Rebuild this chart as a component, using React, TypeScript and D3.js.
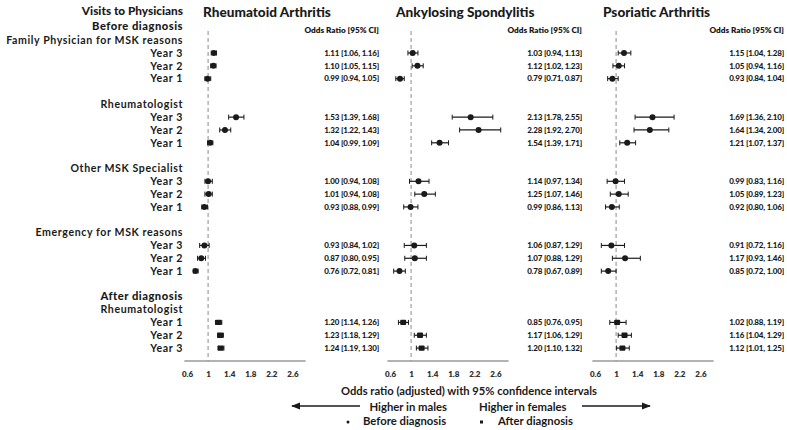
import React, { useEffect, useRef } from 'react';
import * as d3 from 'd3';

// rows: Family Physician Y3,Y2,Y1 | Rheumatologist Y3,Y2,Y1 | Other MSK Y3,Y2,Y1 | Emergency Y3,Y2,Y1 | After: Rheumatologist Y1,Y2,Y3
const groupLabels = ['Family Physician for MSK reasons', 'Rheumatologist', 'Other MSK Specialist', 'Emergency for MSK reasons', 'Rheumatologist'];
const yearsBefore = ['Year 3', 'Year 2', 'Year 1'];
const yearsAfter = ['Year 1', 'Year 2', 'Year 3'];
const diseases = ['Rheumatoid Arthritis', 'Ankylosing Spondylitis', 'Psoriatic Arthritis'];
const tickValues = [0.6, 1, 1.4, 1.8, 2.2, 2.6];

const raOR = [1.11, 1.10, 0.99, 1.53, 1.32, 1.04, 1.00, 1.01, 0.93, 0.93, 0.87, 0.76, 1.20, 1.23, 1.24];
const raLo = [1.06, 1.05, 0.94, 1.39, 1.22, 0.99, 0.94, 0.94, 0.88, 0.84, 0.80, 0.72, 1.14, 1.18, 1.19];
const raHi = [1.16, 1.15, 1.05, 1.68, 1.43, 1.09, 1.08, 1.08, 0.99, 1.02, 0.95, 0.81, 1.26, 1.29, 1.30];

const asOR = [1.03, 1.12, 0.79, 2.13, 2.28, 1.54, 1.14, 1.25, 0.99, 1.06, 1.07, 0.78, 0.85, 1.17, 1.20];
const asLo = [0.94, 1.02, 0.71, 1.78, 1.92, 1.39, 0.97, 1.07, 0.86, 0.87, 0.88, 0.67, 0.76, 1.06, 1.10];
const asHi = [1.13, 1.23, 0.87, 2.55, 2.70, 1.71, 1.34, 1.46, 1.13, 1.29, 1.29, 0.89, 0.95, 1.29, 1.32];

const psaOR = [1.15, 1.05, 0.93, 1.69, 1.64, 1.21, 0.99, 1.05, 0.92, 0.91, 1.17, 0.85, 1.02, 1.16, 1.12];
const psaLo = [1.04, 0.94, 0.84, 1.36, 1.34, 1.07, 0.83, 0.89, 0.80, 0.72, 0.93, 0.72, 0.88, 1.04, 1.01];
const psaHi = [1.28, 1.16, 1.04, 2.10, 2.00, 1.37, 1.16, 1.23, 1.06, 1.16, 1.46, 1.00, 1.19, 1.29, 1.25];

const FONT = 'Lato, "Open Sans", sans-serif';
const INK = '#1a1a1a';

const App = () => {
  const ref = useRef<SVGSVGElement>(null);

  useEffect(() => {
    const svg = d3.select(ref.current);
    svg.selectAll('*').remove();

    const row = d3.scaleLinear().domain([0, 26]).range([14.5, 14.5 + 26 * 12.83]);
    const dataRow = (i: number) => {
      const g = Math.floor(i / 3);
      return g < 4 ? 3 + g * 5 + (i % 3) : 24 + (i % 3);
    };
    const labelX = 183;
    const axisY = 361;

    const txt = (x: number, y: number, s: string, size: number, weight: number, anchor = 'end', spacing = 0) =>
      svg.append('text')
        .attr('x', x).attr('y', y)
        .attr('dy', '0.35em')
        .attr('text-anchor', anchor)
        .attr('font-family', FONT)
        .attr('font-size', size)
        .attr('font-weight', weight)
        .attr('letter-spacing', spacing)
        .attr('fill', INK)
        .text(s);

    // left labels
    txt(labelX, 11, 'Visits to Physicians', 11.8, 900);
    txt(labelX, row(1) - 0.8, 'Before diagnosis', 11.2, 900, 'end', 0.5);
    txt(labelX, row(22) - 0.8, 'After diagnosis', 11.2, 900, 'end', 0.5);
    groupLabels.forEach((g, gi) => {
      txt(labelX, row(gi < 4 ? 2 + gi * 5 : 23), g, 10.6, 700, 'end', 0.6);
    });
    raOR.forEach((_, i) => {
      const yr = i < 12 ? yearsBefore[i % 3] : yearsAfter[i % 3];
      txt(labelX, row(dataRow(i)), yr, 10.6, 700, 'end', 0.6);
    });

    const panels = [
      { name: diseases[0], or: raOR, lo: raLo, hi: raHi, x0: 187, valX: 379, titleX: 203 },
      { name: diseases[1], or: asOR, lo: asLo, hi: asHi, x0: 390, valX: 582, titleX: 396 },
      { name: diseases[2], or: psaOR, lo: psaLo, hi: psaHi, x0: 595, valX: 784, titleX: 603 },
    ];

    panels.forEach((p) => {
      const x = d3.scaleLinear().domain([0.6, 2.8]).range([p.x0, p.x0 + 116]);

      txt(p.titleX, 12, p.name, 13.6, 900, 'start');
      txt(p.valX, 30, 'Odds Ratio [95% CI]', 8.2, 800);

      // reference line at OR = 1
      svg.append('line')
        .attr('x1', x(1)).attr('x2', x(1))
        .attr('y1', 31).attr('y2', axisY)
        .attr('stroke', '#8a8a8a')
        .attr('stroke-width', 1)
        .attr('stroke-dasharray', '4,3');

      // axis
      const axis = svg.append('g')
        .attr('transform', `translate(0,${axisY})`)
        .call(d3.axisBottom(x).tickValues(tickValues).tickSize(0).tickPadding(10).tickFormat((d) => String(d)));
      axis.select('.domain')
        .attr('d', `M${x(0.55)},0H${x(2.85)}`)
        .attr('stroke', '#9a9a9a').attr('stroke-width', 1.5);
      axis.selectAll('text')
        .attr('font-family', FONT)
        .attr('font-size', 8)
        .attr('font-weight', 800)
        .attr('fill', '#333');

      p.or.forEach((v, i) => {
        const y = row(dataRow(i));
        const g = svg.append('g').attr('stroke', INK).attr('fill', INK);
        g.append('line').attr('x1', x(p.lo[i])).attr('x2', x(p.hi[i])).attr('y1', y).attr('y2', y).attr('stroke-width', 1.2);
        [p.lo[i], p.hi[i]].forEach((c) => {
          g.append('line').attr('x1', x(c)).attr('x2', x(c)).attr('y1', y - 2.5).attr('y2', y + 2.5).attr('stroke-width', 1);
        });
        if (i < 12) {
          g.append('circle').attr('cx', x(v)).attr('cy', y).attr('r', 3).attr('stroke', 'none');
        } else {
          g.append('rect').attr('x', x(v) - 3).attr('y', y - 2.7).attr('width', 6).attr('height', 5.4).attr('rx', 1).attr('stroke', 'none');
        }
        txt(p.valX, y, `${v.toFixed(2)} [${p.lo[i].toFixed(2)}, ${p.hi[i].toFixed(2)}]`, 8, 900, 'end', -0.2);
      });
    });

    // bottom annotations
    txt(469, 391, 'Odds ratio (adjusted) with 95% confidence intervals', 11.2, 700, 'middle');
    txt(447, 407, 'Higher in males', 11.3, 700);
    txt(479, 407, 'Higher in females', 11.3, 700, 'start');

    svg.append('defs').append('marker')
      .attr('id', 'arrowhead')
      .attr('viewBox', '0 0 10 10')
      .attr('refX', 9).attr('refY', 5)
      .attr('markerWidth', 6).attr('markerHeight', 6)
      .attr('orient', 'auto-start-reverse')
      .append('path').attr('d', 'M0,1L10,5L0,9z').attr('fill', INK);

    svg.append('line').attr('x1', 360).attr('x2', 292).attr('y1', 406).attr('y2', 406)
      .attr('stroke', INK).attr('stroke-width', 1.5).attr('marker-end', 'url(#arrowhead)');
    svg.append('line').attr('x1', 582).attr('x2', 650).attr('y1', 406).attr('y2', 406)
      .attr('stroke', INK).attr('stroke-width', 1.5).attr('marker-end', 'url(#arrowhead)');

    svg.append('circle').attr('cx', 348).attr('cy', 422).attr('r', 1.5).attr('fill', INK);
    txt(363, 421, 'Before diagnosis', 11.3, 700, 'start');
    svg.append('rect').attr('x', 480).attr('y', 420.5).attr('width', 3).attr('height', 3).attr('fill', INK);
    txt(498, 421, 'After diagnosis', 11.3, 700, 'start');
  }, []);

  return (
    <svg
      ref={ref}
      width={787}
      height={430}
      style={{ position: 'absolute', left: 0, top: 0, background: '#fff' }}
    />
  );
};

export default App;
